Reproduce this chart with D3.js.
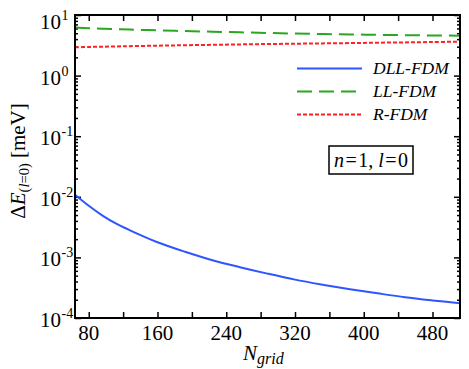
<!DOCTYPE html>
<html><head><meta charset="utf-8">
<script src="https://cdn.jsdelivr.net/npm/d3@7"></script>
<style>
html,body{margin:0;padding:0;background:#fff;}
</style></head>
<body><svg id="c" width="469" height="369"></svg>
<script>
const N = [64, 80, 96, 112, 128, 160, 192, 224, 256, 288, 320, 352, 384, 416, 448, 480, 512];
const dll = [0.0108, 0.0071, 0.0049, 0.0036, 0.0028, 0.00178, 0.00124, 9.0e-4, 6.9e-4, 5.4e-4, 4.3e-4, 3.55e-4, 2.98e-4, 2.55e-4, 2.2e-4, 1.95e-4, 1.75e-4];
const ll  = [6.2, 6.07, 5.95, 5.85, 5.75, 5.58, 5.43, 5.3, 5.18, 5.05, 4.95, 4.86, 4.78, 4.71, 4.65, 4.6, 4.55];
const rf  = [2.93, 2.97, 3.0, 3.03, 3.06, 3.12, 3.17, 3.22, 3.27, 3.32, 3.36, 3.40, 3.44, 3.49, 3.53, 3.58, 3.63];
const seriesNames = ["DLL-FDM", "LL-FDM", "R-FDM"];
const xMajor = [80, 160, 240, 320, 400, 480];
const xMinor = [120, 200, 280, 360, 440];
const yDecades = [-4, -3, -2, -1, 0, 1];

const svg = d3.select("#c");
const L = 75, R = 460, T = 15, B = 318;
const x = d3.scaleLinear().domain([64, 512]).range([L, R]);
const y = d3.scaleLog().domain([1e-4, 10]).range([B, T]);

const colors = ["#2f55ff", "#2aa620", "#ff2020"];
const dashes = [null, "15,7", "4,2"];
const data = [dll, ll, rf];

const yMinor = [];
yDecades.slice(0, -1).forEach(d => { for (let k = 2; k <= 9; k++) yMinor.push(k * Math.pow(10, d)); });
const yMajorVals = yDecades.map(d => Math.pow(10, d));

function drawAxis(gen, tr, vals, size) {
  svg.append("g").attr("transform", tr)
    .call(gen.tickValues(vals).tickSize(size).tickFormat("").tickSizeOuter(0))
    .call(g => g.select(".domain").remove())
    .call(g => g.selectAll("line").attr("stroke", "#000").attr("stroke-width", 1.5));
}
drawAxis(d3.axisBottom(x), `translate(0,${B})`, xMajor, -6);
drawAxis(d3.axisBottom(x), `translate(0,${B})`, xMinor, -6);
drawAxis(d3.axisTop(x), `translate(0,${T})`, xMajor.concat(xMinor), -6);
drawAxis(d3.axisLeft(y), `translate(${L},0)`, yMajorVals, -6);
drawAxis(d3.axisLeft(y), `translate(${L},0)`, yMinor, -3);
drawAxis(d3.axisRight(y), `translate(${R},0)`, yMajorVals, -6);
drawAxis(d3.axisRight(y), `translate(${R},0)`, yMinor, -3);

svg.append("clipPath").attr("id", "clip").append("rect")
  .attr("x", L).attr("y", T).attr("width", R - L).attr("height", B - T);

const line = d3.line().x((d, i) => x(N[i])).y(d => y(d)).curve(d3.curveCatmullRom.alpha(0.5));
data.forEach((s, i) => {
  svg.append("path").datum(s).attr("d", line).attr("fill", "none")
    .attr("stroke", colors[i]).attr("stroke-width", 2)
    .attr("stroke-dasharray", dashes[i]).attr("clip-path", "url(#clip)");
});

svg.append("rect").attr("x", L).attr("y", T).attr("width", R - L).attr("height", B - T)
  .attr("fill", "none").attr("stroke", "#000").attr("stroke-width", 2);

function txt(sel) { return sel.append("text").attr("style", "font-family:'Liberation Serif'").attr("fill", "#000"); }

xMajor.forEach(d => {
  txt(svg).attr("x", x(d)).attr("y", 340).attr("text-anchor", "middle").attr("font-size", 21).text(d);
});

yDecades.forEach(d => {
  const yy = Math.max(y(Math.pow(10, d)) + 9, 28.5);
  const t = txt(svg).attr("x", 40).attr("y", yy).attr("font-size", 21);
  t.append("tspan").text("10");
  t.append("tspan").attr("font-size", 14).attr("dy", -9).attr("dx", 0.5).text(d < 0 ? "-" + (-d) : d);
});

const xt = txt(svg).attr("x", 243).attr("y", 360).attr("font-size", 21).attr("font-style", "italic");
xt.append("tspan").text("N");
xt.append("tspan").attr("font-size", 16).attr("dy", 4).text("grid");

const yt = txt(svg).attr("transform", "translate(24.5,161) rotate(-90)")
  .attr("text-anchor", "middle").attr("font-size", 21);
yt.append("tspan").text("Δ");
yt.append("tspan").attr("font-style", "italic").text("E");
yt.append("tspan").attr("font-size", 14.5).attr("dy", 4.5).text("(");
yt.append("tspan").attr("font-size", 14.5).attr("font-style", "italic").text("l");
yt.append("tspan").attr("font-size", 14.5).text("=0)");
yt.append("tspan").attr("dy", -4.5).text(" [meV]");

const legY = [68.5, 91.5, 114.5];
seriesNames.forEach((n, i) => {
  svg.append("line").attr("x1", 297).attr("x2", 362).attr("y1", legY[i]).attr("y2", legY[i])
    .attr("stroke", colors[i]).attr("stroke-width", 2).attr("stroke-dasharray", dashes[i]);
  txt(svg).attr("x", 373).attr("y", legY[i] + 5).attr("font-size", 17.5)
    .attr("font-style", "italic").text(n);
});

svg.append("rect").attr("x", 329).attr("y", 146).attr("width", 84).attr("height", 28)
  .attr("fill", "#fff").attr("stroke", "#000").attr("stroke-width", 1.5);
const an = txt(svg).attr("x", 371).attr("y", 166.5).attr("text-anchor", "middle").attr("font-size", 20);
an.append("tspan").attr("font-style", "italic").text("n");
an.append("tspan").attr("dx", 1.5).text("=");
an.append("tspan").attr("dx", 1.5).text("1, ");
an.append("tspan").attr("font-style", "italic").text("l");
an.append("tspan").attr("dx", 1.5).text("=");
an.append("tspan").attr("dx", 1.5).text("0");
</script></body></html>
